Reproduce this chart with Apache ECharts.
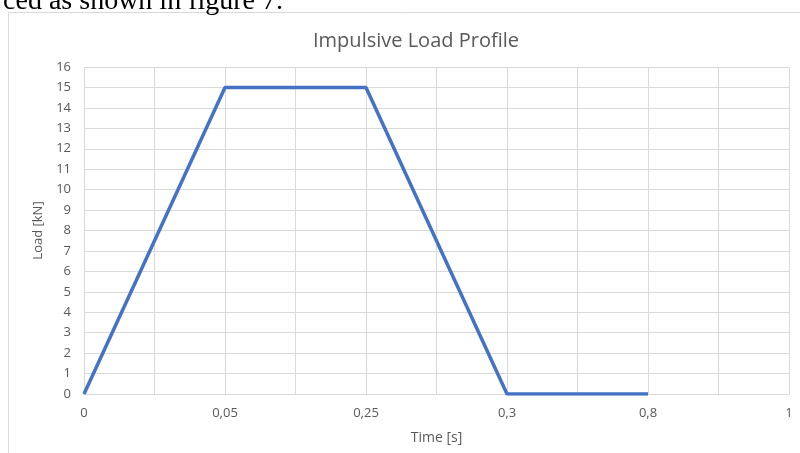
<!DOCTYPE html>
<html><head><meta charset="utf-8">
<script src="https://cdn.jsdelivr.net/npm/echarts@6/dist/echarts.min.js"></script>
<style>html,body{margin:0;padding:0;background:#fff}#c{width:800px;height:453px}</style>
</head><body><div id="c"></div>
<script>
const timeLabels = ['0', '0,05', '0,25', '0,3', '0,8', '1'];
const loads = [0, 15, 15, 0, 0, null];
const yTicks = { min: 0, max: 16, interval: 1 };

const chart = echarts.init(document.getElementById('c'));
const seriesData = loads.map((v, i) => [i, v]).filter(d => d[1] !== null);
chart.setOption({
  animation: false,
  title: {
    text: 'Impulsive Load Profile', left: 411, top: 26, textAlign: 'center',
    textStyle: { color: '#595959', fontSize: 20, fontWeight: 'normal', fontFamily: 'Open Sans' }
  },
  graphic: [
    { type: 'rect', shape: { x: 8.5, y: 12.5, width: 900, height: 600 }, style: { fill: 'none', stroke: '#d9d9d9', lineWidth: 1 } },
    { type: 'text', right: 517, top: -12, style: { text: 'ced as shown in figure 7.', font: '28px "Liberation Serif"', fill: '#000' } }
  ],
  grid: { left: 84, right: 11, top: 67, bottom: 59 },
  xAxis: {
    type: 'value', min: 0, max: timeLabels.length - 1, interval: 0.5,
    name: 'Time [s]', nameLocation: 'middle', nameGap: 37,
    nameTextStyle: { color: '#595959', fontSize: 14, fontFamily: 'Open Sans' },
    axisLine: { show: true, lineStyle: { color: '#d9d9d9' } },
    axisTick: { show: false },
    axisLabel: {
      color: '#595959', fontSize: 13, fontFamily: 'Open Sans', margin: 13,
      formatter: v => Number.isInteger(v) ? timeLabels[v] : ''
    },
    splitLine: { show: true, lineStyle: { color: '#d9d9d9', width: 1 } }
  },
  yAxis: {
    type: 'value', min: yTicks.min, max: yTicks.max, interval: yTicks.interval,
    name: 'Load [kN]', nameLocation: 'middle', nameGap: 33, nameRotate: 90,
    nameTextStyle: { color: '#595959', fontSize: 13, fontFamily: 'Open Sans' },
    axisLine: { show: false }, axisTick: { show: false },
    axisLabel: { color: '#595959', fontSize: 13, fontFamily: 'Open Sans', margin: 13 },
    splitLine: { show: true, lineStyle: { color: '#d9d9d9', width: 1 } }
  },
  series: [{
    type: 'line', data: seriesData, showSymbol: false, symbol: 'none',
    lineStyle: { color: '#4472C4', width: 3.5 }
  }]
});
</script></body></html>
